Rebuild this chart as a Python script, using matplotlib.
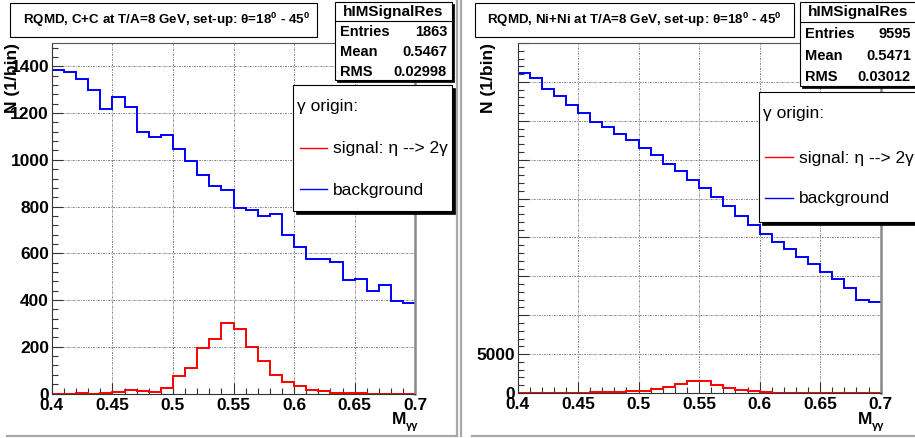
import numpy as np
import matplotlib
matplotlib.use("Agg")
import matplotlib.pyplot as plt
from matplotlib.patches import Rectangle
from matplotlib.lines import Line2D
from matplotlib.ticker import MultipleLocator, FixedLocator, FixedFormatter

plt.rcParams['font.family'] = ['Liberation Sans', 'DejaVu Sans']
plt.rcParams['mathtext.fontset'] = 'custom'
plt.rcParams['mathtext.rm'] = 'Liberation Sans:bold'
plt.rcParams['mathtext.bf'] = 'Liberation Sans:bold'
plt.rcParams['mathtext.default'] = 'regular'

# ---------------- data ----------------
bin_low, bin_high, n_bins = 0.40, 0.70, 30

cc_background = [1385, 1374, 1347, 1300, 1217, 1271, 1228, 1117, 1097, 1107,
                 1047, 997, 936, 889, 871, 794, 786, 760, 767, 679,
                 629, 576, 574, 563, 486, 490, 439, 463, 396, 387]
cc_signal = [0, 0, 1, 0, 2, 5, 16, 12, 8, 22,
             74, 111, 196, 234, 300, 276, 200, 141, 81, 50,
             31, 14, 10, 4, 4, 1, 0, 0, 0, 0]

nini_background = [41170, 40450, 39040, 38210, 37020, 35950, 34870, 34150, 33300, 32500,
                   31500, 30600, 29500, 28600, 27400, 26400, 25200, 24100, 22800, 21600,
                   20500, 19400, 18500, 17500, 16600, 15600, 14600, 13500, 12000, 11750]
nini_signal = [0, 0, 0, 10, 20, 40, 80, 130, 180, 250,
               312, 490, 760, 1200, 1600, 1520, 1070, 625, 400, 220,
               90, 45, 45, 0, 0, 0, 0, 0, 0, 0]

x_tick_vals = [0.4, 0.45, 0.5, 0.55, 0.6, 0.65, 0.7]
x_tick_labels = ["0.4", "0.45", "0.5", "0.55", "0.6", "0.65", "0.7"]
cc_y_ticks = [0, 200, 400, 600, 800, 1000, 1200, 1400]
nini_y_ticks = [0, 5000, 10000, 15000, 20000, 25000, 30000, 35000, 40000, 45000]
nini_y_labels = ["0", "5000", "", "", "", "", "", "", "", ""]

titles = [r"RQMD, C+C at T/A=8 GeV, set-up: $\theta$=18$^{0}$ - 45$^{0}$",
          r"RQMD, Ni+Ni at T/A=8 GeV, set-up: $\theta$=18$^{0}$ - 45$^{0}$"]
stats_entries = ["1863", "9595"]
stats_mean = ["0.5467", "0.5471"]
stats_rms = ["0.02998", "0.03012"]

# ---------------- figure ----------------
W, H = 915, 438
fig = plt.figure(figsize=(W / 100, H / 100), dpi=100)
fig.patch.set_facecolor('white')


def fx(x):
    return x / W


def fy(y):
    return 1 - y / H


edges = np.linspace(bin_low, bin_high, n_bins + 1)

axL = fig.add_axes([fx(51.9), fy(393.5), (415.2 - 51.9) / W, (393.5 - 43) / H])
axR = fig.add_axes([fx(517.5), fy(393), (880.7 - 517.5) / W, (393 - 43) / H])

grid_style = dict(color='#808080', linestyle=(0, (2, 1.2, 0.8, 1.2)), linewidth=0.7)

for ax in (axL, axR):
    ax.set_xlim(bin_low, bin_high)
    ax.xaxis.set_major_locator(FixedLocator(x_tick_vals))
    ax.xaxis.set_major_formatter(FixedFormatter(x_tick_labels))
    ax.xaxis.set_minor_locator(MultipleLocator(0.01))
    ax.tick_params(which='both', direction='in', top=False, right=False,
                   color='#333333', width=0.8)
    ax.tick_params(which='major', length=8, labelsize=12.5, pad=2)
    ax.tick_params(which='minor', length=4)
    ax.tick_params(axis='x', which='major', pad=3)
    ax.set_axisbelow(True)
    ax.grid(True, which='major', **grid_style)
    ax.spines['left'].set_color('#333333')
    ax.spines['bottom'].set_color('#333333')
    ax.spines['top'].set_color('#555555')
    ax.spines['top'].set_linewidth(0.8)
    ax.spines['right'].set_color('#8a8a8a')
    ax.spines['right'].set_linewidth(1.8)

axL.set_ylim(0, 1500)
axL.yaxis.set_major_locator(FixedLocator(cc_y_ticks))
axL.yaxis.set_minor_locator(MultipleLocator(40))

axR.set_ylim(0, 45000)
axR.yaxis.set_major_locator(FixedLocator(nini_y_ticks))
axR.yaxis.set_major_formatter(FixedFormatter(nini_y_labels))
axR.yaxis.set_minor_locator(MultipleLocator(1000))

for ax in (axL, axR):
    for lbl in ax.get_xticklabels() + ax.get_yticklabels():
        lbl.set_fontweight('bold')

axL.stairs(cc_background, edges, color='#0000ff', linewidth=1.4, baseline=None)
axL.stairs(cc_signal, edges, color='#ff0000', linewidth=1.4, baseline=None)
axR.stairs(nini_background, edges, color='#0000ff', linewidth=1.4, baseline=None)
axR.stairs(nini_signal, edges, color='#ff0000', linewidth=1.4, baseline=None)


# ---------------- decorations ----------------
def rect(x0, y0, x1, y1, fc='white', ec='black', lw=0.8, z=5):
    r = Rectangle((fx(x0), fy(y1)), (x1 - x0) / W, (y1 - y0) / H,
                  transform=fig.transFigure, facecolor=fc, edgecolor=ec,
                  linewidth=lw, zorder=z, clip_on=False)
    fig.add_artist(r)


def shadow_box(x0, y0, x1, y1, off=3, z=5):
    rect(x0 + off, y0 + off, x1 + off, y1 + off, fc='black', ec='black', lw=0.5, z=z)
    rect(x0, y0, x1, y1, fc='white', ec='black', lw=0.8, z=z + 0.1)


def line(x0, y0, x1, y1, color='black', lw=0.8, z=6):
    fig.add_artist(Line2D([fx(x0), fx(x1)], [fy(y0), fy(y1)], transform=fig.transFigure,
                          color=color, linewidth=lw, zorder=z))


def text(x, y, s, z=7, **kw):
    fig.text(fx(x), fy(y), s, zorder=z, **kw)


# pad borders
line(457, 0, 457, 436, color='#a8a8a8', lw=1.6, z=1)
line(7, 436, 457, 436, color='#a8a8a8', lw=1.6, z=1)
line(461, 0, 461, 436, color='#a8a8a8', lw=1.6, z=1)
line(472, 436, 915, 436, color='#a8a8a8', lw=1.6, z=1)

# titles
rect(10, 3, 317, 37, z=5)
text(167, 20, titles[0], ha='center', va='center', fontsize=9.6, fontweight='bold')
rect(475, 3, 794, 37, z=5)
text(634.5, 20, titles[1], ha='center', va='center', fontsize=9.6, fontweight='bold')

# stats boxes
for (x0, x1, y1, sep, rows_y, vx, i) in [(335, 452, 80, 21, (32, 52, 72), 447, 0),
                                         (800, 918, 86, 22, (34, 56, 77), 911, 1)]:
    shadow_box(x0, 2, x1, y1, off=2, z=8)
    line(x0, sep, x1, sep, z=9)
    text((x0 + vx + 5) / 2, 12, "hIMSignalRes", z=10, ha='center', va='center',
         fontsize=11, fontweight='bold')
    for lab, val, yy in zip(["Entries", "Mean", "RMS"],
                            [stats_entries[i], stats_mean[i], stats_rms[i]], rows_y):
        text(x0 + 5, yy, lab, z=10, ha='left', va='center', fontsize=10.5, fontweight='bold')
        text(vx, yy, val, z=10, ha='right', va='center', fontsize=10.5, fontweight='bold')

# legends
for (x0, y0, x1, y1, tx, ty, lx0, lx1, s1, s2) in [
        (293, 85, 452, 211, 297, 107, 300, 327, 148, 189),
        (759, 92, 922, 222, 763, 114, 765, 793, 157, 198)]:
    shadow_box(x0, y0, x1, y1, off=3, z=11)
    text(tx, ty, "\u03b3 origin:", z=13, ha='left', va='center', fontsize=12.5)
    line(lx0, s1, lx1, s1, color='#ff0000', lw=1.0, z=13)
    text(lx1 + 6, s1 + 1, "signal: \u03b7 --> 2\u03b3", z=13, ha='left', va='center', fontsize=12.5)
    line(lx0, s2, lx1, s2, color='#0000ff', lw=1.0, z=13)
    text(lx1 + 6, s2 + 1, "background", z=13, ha='left', va='center', fontsize=12.5)

# axis labels
text(13, 43, "N (1/bin)", rotation=90, ha='center', va='top', fontsize=12.5, fontweight='bold')
text(488, 43, "N (1/bin)", rotation=90, ha='center', va='top', fontsize=12.5, fontweight='bold')
for (mx, sx) in [(392, 406), (858, 872)]:
    text(mx, 419, "M", ha='left', va='center', fontsize=12.5, fontweight='bold')
    text(sx, 426, "\u03b3\u03b3", ha='left', va='center', fontsize=8, fontweight='bold')

fig.savefig("out.png", dpi=100)
